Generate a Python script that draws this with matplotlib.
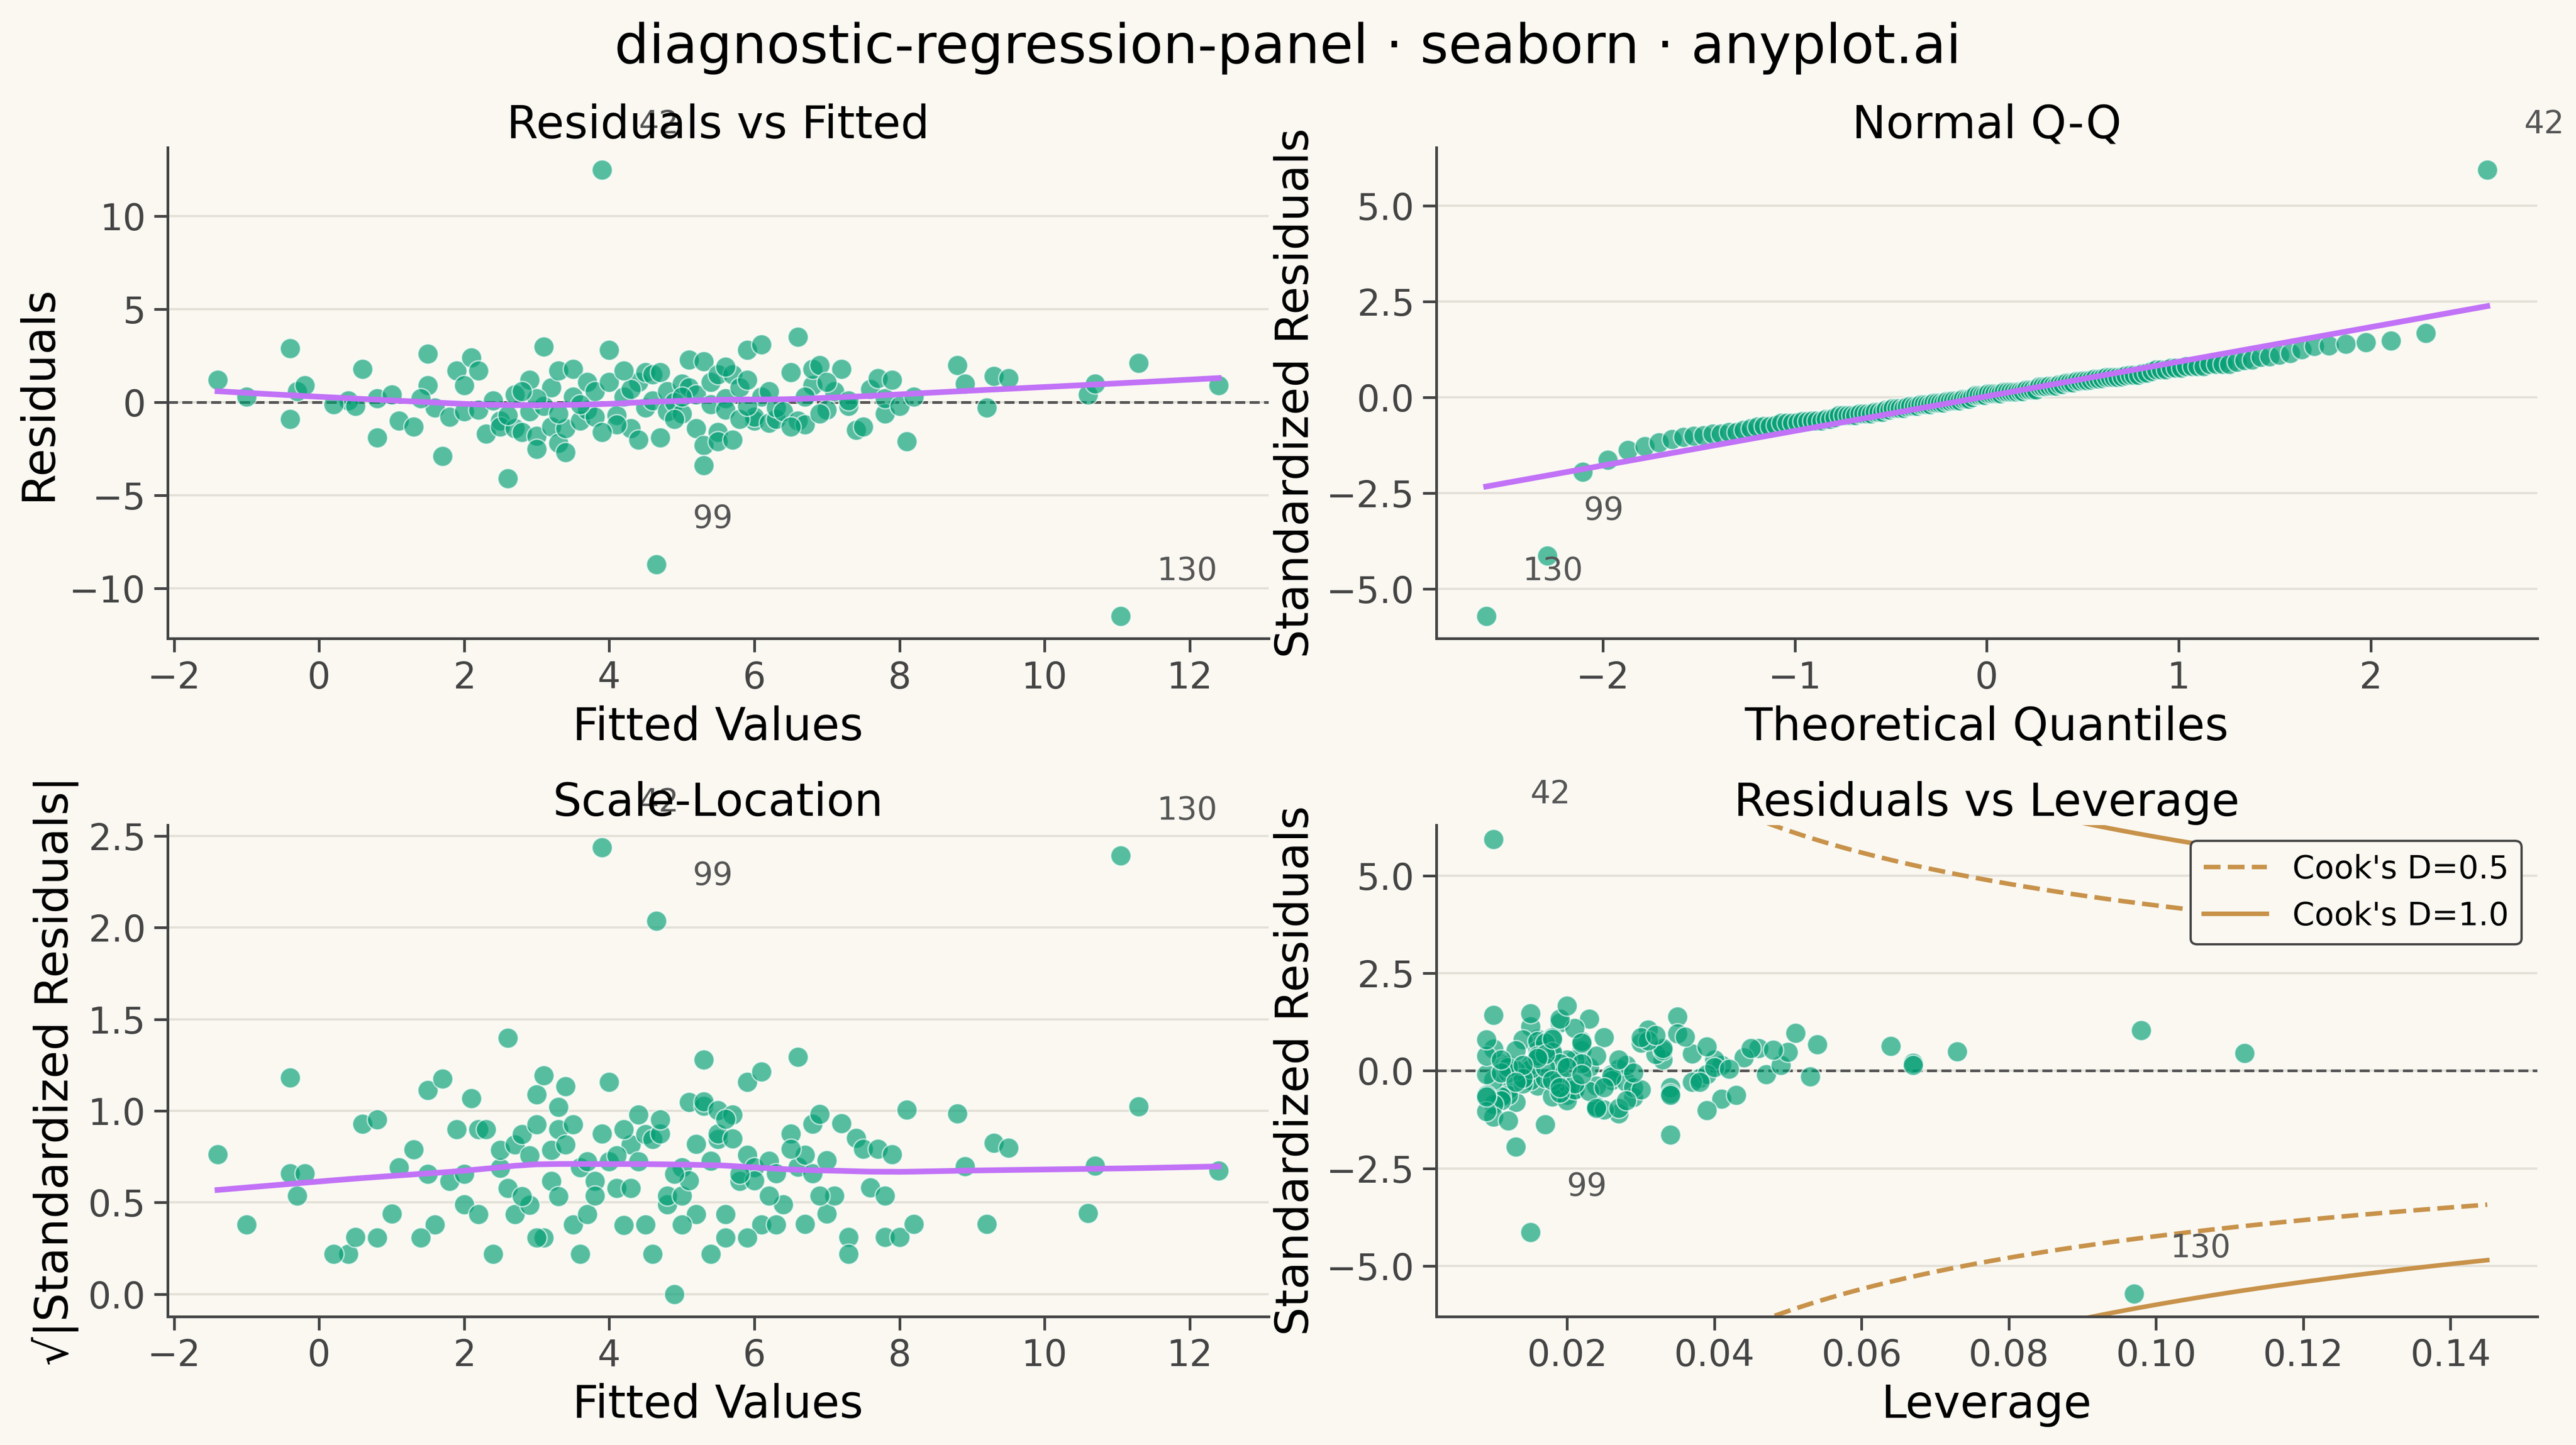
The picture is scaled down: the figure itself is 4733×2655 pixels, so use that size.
import numpy as np
import matplotlib
matplotlib.use("Agg")
import matplotlib.pyplot as plt
from statistics import NormalDist

fitted = [-1.4,-1.0,-0.4,-0.4,-0.3,-0.2,0.4,0.5,0.6,0.8,0.8,1.1,1.3,1.5,1.5,1.6,1.7,1.8,1.9,2.0,
          2.1,2.2,2.2,2.3,2.4,2.5,2.5,2.6,2.7,2.7,2.8,2.9,2.9,3.0,3.0,3.1,3.1,3.2,3.2,3.3,
          3.3,3.4,3.9,3.4,3.5,3.5,3.6,3.7,3.7,3.8,3.8,4.0,4.0,4.1,4.2,4.3,4.4,4.5,4.5,4.6,
          4.6,4.7,4.7,4.8,4.8,4.9,5.0,5.0,5.1,5.1,5.2,5.2,5.3,5.3,5.3,5.4,5.4,5.5,5.5,5.5,
          5.6,5.6,5.7,5.7,5.8,5.9,5.9,6.0,6.0,6.1,6.1,6.2,6.3,6.3,6.4,6.5,6.6,6.6,6.7,4.65,
          6.8,6.8,6.9,7.0,7.1,7.2,7.3,7.4,7.5,7.6,7.7,7.8,7.8,7.9,8.0,8.1,8.2,8.8,8.9,9.2,
          9.3,9.5,10.6,10.7,11.3,12.4,0.2,1.0,2.0,2.6,11.05,3.0,3.6,4.1,4.3,5.0,5.8,6.2,6.9,7.3,
          4.4,3.9,5.6,2.8,6.5,4.9,7.0,1.4,3.3,5.9,4.2,6.7]
resid = [1.2,0.3,2.9,-0.9,0.6,0.9,0.1,-0.2,1.8,-1.9,0.2,-1.0,-1.3,2.6,0.9,-0.3,-2.9,-0.8,1.7,-0.5,
         2.4,1.7,-0.4,-1.7,0.1,-1.0,-1.3,-4.1,0.4,-1.4,-1.6,-0.5,1.2,-1.8,-2.5,3.0,-0.2,-1.3,0.8,-2.2,
         1.7,-1.4,12.5,-2.7,0.3,1.8,-1.0,1.1,-0.4,-0.8,0.6,1.1,2.8,-0.7,0.3,-1.4,1.1,1.6,-0.3,0.1,
         1.5,1.6,-1.9,-0.5,0.6,0.0,1.0,-0.6,2.3,0.8,0.4,-1.4,2.2,-2.3,-3.4,1.1,-0.1,1.5,-1.6,-2.1,
         0.2,-0.4,1.5,-2.0,0.8,2.8,1.2,-1.0,-0.8,0.3,3.1,-1.1,-0.9,-0.3,-0.5,1.6,3.5,-1.0,-1.2,-8.7,
         0.9,1.8,2.0,-0.4,0.6,1.8,-0.2,-1.5,-1.3,0.7,1.3,-0.6,0.2,1.2,-0.2,-2.1,0.3,2.0,1.0,-0.3,
         1.4,1.3,0.4,1.0,2.1,0.9,-0.1,0.4,0.9,-0.7,-11.5,0.2,-0.1,-1.2,0.7,0.3,-0.9,0.6,-0.6,0.1,
         -2.0,-1.6,1.9,0.6,-1.3,-0.9,1.1,0.2,-0.6,-0.2,1.7,0.3]
leverage = [0.046,0.041,0.035,0.034,0.033,0.032,0.027,0.026,0.025,0.024,0.023,0.021,0.020,0.019,0.018,0.018,0.017,0.016,0.016,0.015,
            0.015,0.014,0.014,0.013,0.013,0.012,0.012,0.013,0.011,0.011,0.011,0.010,0.010,0.010,0.010,0.010,0.009,0.009,0.009,0.009,
            0.009,0.009,0.010,0.012,0.015,0.018,0.020,0.022,0.017,0.019,0.021,0.016,0.023,0.014,0.012,0.018,0.013,0.016,0.019,0.015,
            0.017,0.022,0.024,0.026,0.020,0.013,0.018,0.028,0.021,0.024,0.019,0.029,0.031,0.027,0.034,0.033,0.012,0.022,0.020,0.025,
            0.017,0.014,0.030,0.027,0.016,0.019,0.033,0.021,0.024,0.028,0.015,0.023,0.029,0.026,0.018,0.031,0.020,0.030,0.034,0.015,
            0.037,0.030,0.035,0.038,0.040,0.036,0.039,0.041,0.043,0.044,0.039,0.037,0.040,0.045,0.047,0.039,0.049,0.051,0.050,0.053,
            0.054,0.064,0.067,0.073,0.098,0.112,0.029,0.022,0.017,0.021,0.097,0.012,0.011,0.019,0.016,0.014,0.025,0.027,0.038,0.042,
            0.024,0.028,0.032,0.011,0.034,0.019,0.048,0.020,0.013,0.022,0.018,0.067]
label_names = ["42", "99", "130"]

fitted = np.array(fitted); resid = np.array(resid); leverage = np.array(leverage)
n = len(resid); p = 4
s = np.sqrt(np.sum(resid**2) / (n - p))
std = resid / (s * np.sqrt(1 - leverage))
sqrt_std = np.sqrt(np.abs(std))
top3 = np.argsort(-np.abs(std))[:3]
order_lab = sorted(top3, key=lambda i: -std[i])
lab_map = dict(zip(order_lab, label_names))

def lowess(x, y, frac=0.66):
    idx = np.argsort(x); xs = x[idx]; ys = y[idx]
    k = int(np.ceil(frac * len(xs)))
    w_rob = np.ones(len(xs))
    for it in range(3):
        out = np.empty(len(xs))
        for i, x0 in enumerate(xs):
            d = np.abs(xs - x0); h = np.sort(d)[k - 1]
            w = np.clip(1 - (d / h) ** 3, 0, 1) ** 3 * w_rob
            W = np.sum(w); mx = np.sum(w * xs) / W; my = np.sum(w * ys) / W
            vx = np.sum(w * (xs - mx) ** 2)
            b = np.sum(w * (xs - mx) * (ys - my)) / vx if vx > 0 else 0
            out[i] = my + b * (x0 - mx)
        r = ys - out; m = np.median(np.abs(r))
        w_rob = np.clip(1 - (r / (6 * m)) ** 2, 0, 1) ** 2
    return xs, out

BG = "#FAF8F1"; GREEN = "#009E73"; PURPLE = "#C172F7"; COOK = "#C8924A"; TXT = "#555555"
plt.rcParams.update({"font.family": ["DejaVu Sans"], "axes.facecolor": BG, "figure.facecolor": BG,
                     "axes.edgecolor": "#444444", "xtick.color": "#444444", "ytick.color": "#444444",
                     "xtick.labelsize": 16, "ytick.labelsize": 16, "axes.labelsize": 20,
                     "axes.titlesize": 20, "axes.linewidth": 1.2, "axes.titlepad": 4})
fig, axes = plt.subplots(2, 2, figsize=(4733/300, 2655/300), dpi=300)
fig.subplots_adjust(left=0.065, right=0.985, top=0.898, bottom=0.089, hspace=0.38, wspace=0.152)
fig.suptitle("diagnostic-regression-panel · seaborn · anyplot.ai", fontsize=24, y=0.985)

def style(ax):
    for sp in ["top", "right"]:
        ax.spines[sp].set_visible(False)
    ax.grid(axis="y", color="#E3E0D8", lw=1)
    ax.set_axisbelow(True)
    ax.tick_params(length=6, width=1.2)

def pts(ax, x, y):
    ax.scatter(x, y, s=80, color=GREEN, alpha=0.65, edgecolor="white", linewidth=0.6, zorder=3)

def ann(ax, x, y, text):
    ax.annotate(text, (x, y), xytext=(16, 16), textcoords="offset points", fontsize=14, color=TXT)

ax = axes[0, 0]; style(ax)
pts(ax, fitted, resid)
ax.axhline(0, color="#555555", ls="--", lw=1.2, zorder=2)
lx, ly = lowess(fitted, resid); ax.plot(lx, ly, color=PURPLE, lw=2.5, zorder=4)
for i, t in lab_map.items(): ann(ax, fitted[i], resid[i], t)
ax.set_xlabel("Fitted Values"); ax.set_ylabel("Residuals"); ax.set_title("Residuals vs Fitted")
ax.set_xticks(range(-2, 13, 2))

ax = axes[0, 1]; style(ax)
osr = np.sort(std); oidx = np.argsort(std)
m = np.empty(n); m[-1] = 0.5 ** (1 / n); m[0] = 1 - m[-1]
i_ = np.arange(2, n); m[1:-1] = (i_ - 0.3175) / (n + 0.365)
theo = np.array([NormalDist().inv_cdf(v) for v in m])
pts(ax, theo, osr)
b, a = np.polyfit(theo, osr, 1)
ax.plot(theo, a + b * theo, color=PURPLE, lw=2.5, zorder=4)
for rank, i in enumerate(oidx):
    if i in lab_map: ann(ax, theo[rank], osr[rank], lab_map[i])
ax.set_xlabel("Theoretical Quantiles"); ax.set_ylabel("Standardized Residuals"); ax.set_title("Normal Q-Q")
ax.set_yticks([-5, -2.5, 0, 2.5, 5])

ax = axes[1, 0]; style(ax)
pts(ax, fitted, sqrt_std)
lx, ly = lowess(fitted, sqrt_std); ax.plot(lx, ly, color=PURPLE, lw=2.5, zorder=4)
for i, t in lab_map.items(): ann(ax, fitted[i], sqrt_std[i], t)
ax.set_xlabel("Fitted Values"); ax.set_ylabel("√|Standardized Residuals|"); ax.set_title("Scale-Location")
ax.set_xticks(range(-2, 13, 2))

ax = axes[1, 1]; style(ax)
pts(ax, leverage, std)
ax.axhline(0, color="#555555", ls="--", lw=1.2, zorder=2)
hh = np.linspace(leverage.min(), 0.145, 300)
for D, ls in [(0.5, "--"), (1.0, "-")]:
    c = np.sqrt(D * p * (1 - hh) / hh)
    ax.plot(hh, c, color=COOK, ls=ls, lw=2, label=f"Cook's D={D}")
    ax.plot(hh, -c, color=COOK, ls=ls, lw=2)
for i, t in lab_map.items(): ann(ax, leverage[i], std[i], t)
ax.set_ylim(-6.3, 6.3)
ax.set_yticks([-5, -2.5, 0, 2.5, 5])
ax.legend(loc="upper right", fontsize=14, facecolor=BG, edgecolor="#444444", framealpha=1)
ax.set_xlabel("Leverage"); ax.set_ylabel("Standardized Residuals"); ax.set_title("Residuals vs Leverage")

fig.savefig("out.png", dpi=300, facecolor=BG)
